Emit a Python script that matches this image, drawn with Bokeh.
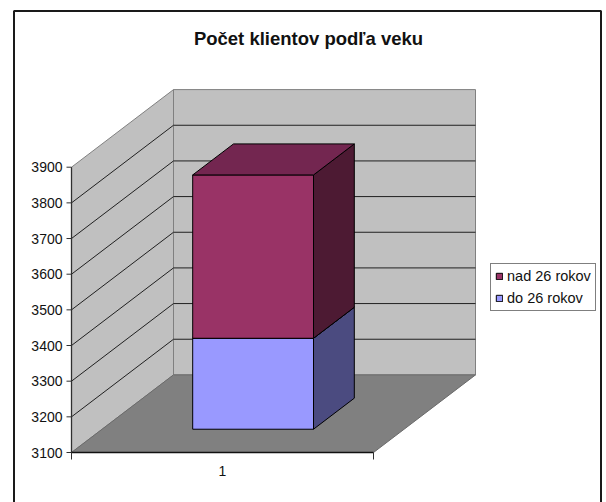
from bokeh.plotting import figure
from bokeh.models import Range1d, Legend, LegendItem, Label
from bokeh.core.properties import value
from bokeh.embed import file_html
from bokeh.resources import INLINE

# ---------------- data ----------------
chart_title = "Počet klientov podľa veku"
categories = ["1"]
series_names = ["do 26 rokov", "nad 26 rokov"]
do_26 = [3355]
nad_26 = [458]
y_ticks = [3100, 3200, 3300, 3400, 3500, 3600, 3700, 3800, 3900]
y_min, y_max = 3100, 3900

# ---------------- layout ----------------
W, H = 606, 502
AX_X, AX_Y = 71, 452          # px of front-left floor corner
PX_CAT = 302.0                # px per category unit
PX_VAL = 285.3 / 800.0        # px per value unit
DEPTH_X = 102.0 / PX_CAT      # depth offset (category units)
DEPTH_V = 77.6 / PX_VAL       # depth offset (value units)
BAR_HW = 0.2                  # half bar width (gap width 150%)
Z_FRONT, Z_BACK = 0.3, 0.7

x0 = 0.5 - AX_X / PX_CAT
y0 = y_min - (H - AX_Y) / PX_VAL
x_range = Range1d(x0, x0 + W / PX_CAT)
y_range = Range1d(y0, y0 + H / PX_VAL)


def sx(px):
    return x0 + px / PX_CAT


def sy(py):
    return y0 + (H - py) / PX_VAL


def P(x, v, z):
    return x + z * DEPTH_X, v + z * DEPTH_V


def poly(pts):
    xs, ys = zip(*[P(*p) for p in pts])
    return list(xs), list(ys)


p = figure(width=W, height=H, x_range=x_range, y_range=y_range,
           output_backend="svg", toolbar_location=None, min_border=0,
           background_fill_color="white", border_fill_color="white")
p.axis.visible = False
p.grid.visible = False
p.outline_line_color = None

# chart border
p.quad(left=[sx(13.5)], right=[sx(600.5)], top=[sy(10.5)], bottom=[sy(560)],
       fill_color=None, line_color="#1a1a1a", line_width=2)

xl, xr = 0.5, len(categories) + 0.5

# walls & floor
lw = poly([(xl, y_min, 0), (xl, y_max, 0), (xl, y_max, 1), (xl, y_min, 1)])
bw = poly([(xl, y_min, 1), (xl, y_max, 1), (xr, y_max, 1), (xr, y_min, 1)])
fl = poly([(xl, y_min, 0), (xr, y_min, 0), (xr, y_min, 1), (xl, y_min, 1)])
p.patch(lw[0], lw[1], fill_color="#C0C0C0", line_color="#808080", line_width=1)
p.patch(bw[0], bw[1], fill_color="#C0C0C0", line_color="#808080", line_width=1)
p.patch(fl[0], fl[1], fill_color="#808080", line_color="#6a6a6a", line_width=1)

# gridlines
inner = [t for t in y_ticks if y_min < t < y_max]
gx, gy = [], []
for t in inner:
    a = P(xl, t, 0)
    b = P(xl, t, 1)
    c = P(xr, t, 1)
    gx.append([a[0], b[0], c[0]])
    gy.append([a[1], b[1], c[1]])
p.multi_line(gx, gy, line_color="#202020", line_width=1)

# bars (stacked)
segments = []
for i, cat in enumerate(categories):
    c = i + 1
    lo = 0
    for name, vals in zip(series_names, [do_26, nad_26]):
        hi = lo + vals[i]
        segments.append((name, c, max(lo, y_min), min(hi, y_max)))
        lo = hi

colors = {
    "do 26 rokov": ("#9999FF", "#4B4B80", "#7777C8"),
    "nad 26 rokov": ("#993366", "#4D1A33", "#732650"),
}
front_renderers = {}
for name, c, lo, hi in segments:
    fc, sc, tc = colors[name]
    side = poly([(c + BAR_HW, lo, Z_FRONT), (c + BAR_HW, lo, Z_BACK),
                 (c + BAR_HW, hi, Z_BACK), (c + BAR_HW, hi, Z_FRONT)])
    front = poly([(c - BAR_HW, lo, Z_FRONT), (c + BAR_HW, lo, Z_FRONT),
                  (c + BAR_HW, hi, Z_FRONT), (c - BAR_HW, hi, Z_FRONT)])
    top = poly([(c - BAR_HW, hi, Z_FRONT), (c + BAR_HW, hi, Z_FRONT),
                (c + BAR_HW, hi, Z_BACK), (c - BAR_HW, hi, Z_BACK)])
    p.patch(side[0], side[1], fill_color=sc, line_color="black", line_width=1)
    r = p.patch(front[0], front[1], fill_color=fc, line_color="black", line_width=1)
    p.patch(top[0], top[1], fill_color=tc, line_color="black", line_width=1)
    front_renderers[name] = r

# value axis
ax0 = P(xl, y_min, 0)
p.segment(x0=[ax0[0]], y0=[y_min], x1=[ax0[0]], y1=[y_max],
          line_color="#303030", line_width=1.3)
p.segment(x0=[ax0[0]] * len(y_ticks), y0=y_ticks, x1=[ax0[0] - 5 / PX_CAT] * len(y_ticks),
          y1=y_ticks, line_color="#303030", line_width=1)
p.text(x=[ax0[0]] * len(y_ticks), y=y_ticks, text=[str(t) for t in y_ticks],
       x_offset=-9, text_align="right", text_baseline="middle",
       text_font=value("Liberation Sans"), text_font_size="14px", text_color="#111111")

# category axis
p.segment(x0=[xl], y0=[y_min], x1=[xr], y1=[y_min], line_color="#111111", line_width=1.6)
cat_edges = [xl + k for k in range(len(categories) + 1)]
p.segment(x0=cat_edges, y0=[y_min] * len(cat_edges), x1=cat_edges,
          y1=[y_min - 7 / PX_VAL] * len(cat_edges), line_color="#303030", line_width=1)
p.text(x=[i + 1 for i in range(len(categories))], y=[y_min] * len(categories),
       text=categories, y_offset=18, text_align="center", text_baseline="middle",
       text_font=value("Liberation Sans"), text_font_size="14px", text_color="#111111")

# title
p.add_layout(Label(x=308, y=H - 38, x_units="screen", y_units="screen",
                   text=chart_title, text_align="center", text_baseline="middle",
                   text_font="Liberation Sans", text_font_style="bold",
                   text_font_size="18.5px", text_color="#111111"))

# legend
legend = Legend(items=[LegendItem(label=n, renderers=[front_renderers[n]])
                       for n in reversed(series_names)],
                location=(490, H - 311),
                border_line_color="black", border_line_width=1,
                background_fill_color="white", background_fill_alpha=1,
                label_text_font="Liberation Sans", label_text_font_size="14.5px",
                label_text_color="#111111", glyph_width=8, glyph_height=8,
                label_height=14, label_standoff=4, spacing=6, padding=4, margin=0)
p.add_layout(legend)

open("out.html", "w").write(file_html(p, INLINE))
